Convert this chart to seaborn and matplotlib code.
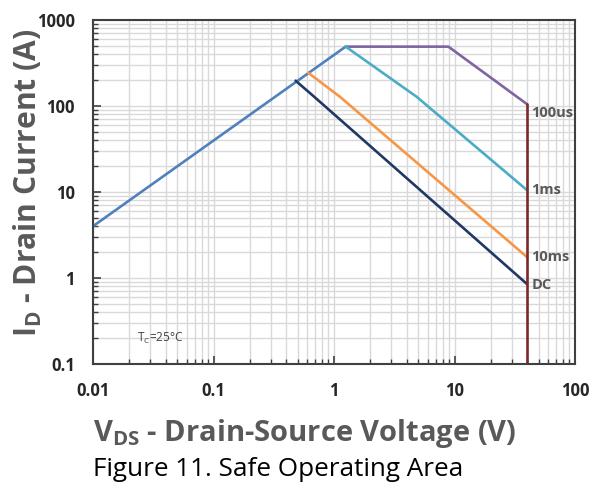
import matplotlib
matplotlib.use("Agg")
import matplotlib.pyplot as plt
import matplotlib.ticker as mticker
import numpy as np
import pandas as pd
import seaborn as sns

# Safe operating area boundaries (V, A)
rds_v = [0.01, 1.25]
rds_i = [4.0, 490.0]

pulse_100us_v = [1.25, 8.9, 40.0]
pulse_100us_i = [490.0, 490.0, 105.0]

pulse_1ms_v = [1.25, 4.85, 40.0]
pulse_1ms_i = [490.0, 128.0, 10.5]

pulse_10ms_v = [0.61, 1.12, 40.0]
pulse_10ms_i = [244.0, 128.0, 1.75]

dc_v = [0.48, 0.66, 40.0]
dc_i = [197.0, 134.0, 0.85]

vmax_v = [40.0, 40.0]
vmax_i = [105.0, 0.1]

curve_names = ["RDS(on) limit", "100us", "1ms", "10ms", "DC", "BVDSS"]
curve_colors = ["#4F81BD", "#8064A2", "#4BACC6", "#F79646", "#1F3864", "#7B2A2A"]
labelled = ["100us", "1ms", "10ms", "DC"]

x_ticks = [0.01, 0.1, 1, 10, 100]
x_ticklabels = ["0.01", "0.1", "1", "10", "100"]
y_ticks = [0.1, 1, 10, 100, 1000]
y_ticklabels = ["0.1", "1", "10", "100", "1000"]

frames = []
for name, v, i in zip(curve_names,
                      [rds_v, pulse_100us_v, pulse_1ms_v, pulse_10ms_v, dc_v, vmax_v],
                      [rds_i, pulse_100us_i, pulse_1ms_i, pulse_10ms_i, dc_i, vmax_i]):
    frames.append(pd.DataFrame({"V": v, "I": i, "curve": name}))
df = pd.concat(frames, ignore_index=True)

sns.set_theme(style="white")
plt.rcParams["font.family"] = ["Open Sans", "DejaVu Sans"]

W, H = 592, 494
fig = plt.figure(figsize=(W / 100, H / 100), dpi=100)
ax = fig.add_axes([93 / W, 1 - 364 / H, 482 / W, 344 / H])

ax.set_xscale("log")
ax.set_yscale("log")
ax.set_xlim(0.01, 100)
ax.set_ylim(0.1, 1000)

ax.grid(True, which="both", color="#D9D9D9", linewidth=1.0)
ax.set_axisbelow(True)

sns.lineplot(data=df, x="V", y="I", hue="curve", sort=False, estimator=None,
             palette=dict(zip(curve_names, curve_colors)), hue_order=curve_names,
             linewidth=1.9, legend=False, ax=ax)
ax.set_xlabel("")
ax.set_ylabel("")

# annotate pulse curves at the voltage limit
ends = {"100us": (pulse_100us_v[-1], pulse_100us_i[-1], -6),
        "1ms": (pulse_1ms_v[-1], pulse_1ms_i[-1], 0),
        "10ms": (pulse_10ms_v[-1], pulse_10ms_i[-1], 0),
        "DC": (dc_v[-1], dc_i[-1], -1)}
for name in labelled:
    v, i, dy = ends[name]
    ax.annotate(name, (v, i), xytext=(3, dy), textcoords="offset points",
                ha="left", va="center", fontsize=10.5, fontweight="bold",
                color="#595959")

ax.text(0.0232, 0.2, r"T$_\mathregular{C}$=25°C", fontsize=8.5,
        color="#404040", ha="left", va="center")

ax.xaxis.set_major_locator(mticker.FixedLocator(x_ticks))
ax.xaxis.set_major_formatter(mticker.FixedFormatter(x_ticklabels))
ax.yaxis.set_major_locator(mticker.FixedLocator(y_ticks))
ax.yaxis.set_major_formatter(mticker.FixedFormatter(y_ticklabels))
ax.xaxis.set_minor_locator(mticker.LogLocator(base=10, subs=np.arange(2, 10)))
ax.yaxis.set_minor_locator(mticker.LogLocator(base=10, subs=np.arange(2, 10)))
ax.xaxis.set_minor_formatter(mticker.NullFormatter())
ax.yaxis.set_minor_formatter(mticker.NullFormatter())

ax.tick_params(which="major", direction="in", length=6, width=1.2, color="#404040",
               labelsize=12, labelcolor="#262626", pad=13, bottom=True, left=True)
ax.tick_params(which="minor", direction="in", length=3.5, width=1.0, color="#404040",
               bottom=True, left=True)
for lab in ax.get_xticklabels() + ax.get_yticklabels():
    lab.set_fontweight("bold")

for side in ["left", "bottom", "top", "right"]:
    ax.spines[side].set_color("#404040")
    ax.spines[side].set_linewidth(1.5)

renderer = fig.canvas.get_renderer()


def fit_width(text_obj, target_px, horizontal=True):
    # scale the font so the drawn text spans the requested length
    for _ in range(3):
        bb = text_obj.get_window_extent(renderer)
        size = bb.width if horizontal else bb.height
        text_obj.set_fontsize(text_obj.get_fontsize() * target_px / size)


xlab = fig.text(93 / W, 1 - 441 / H, r"V$_\mathregular{DS}$ - Drain-Source Voltage (V)",
                fontsize=21, fontweight="bold", color="#595959",
                ha="left", va="baseline")
fit_width(xlab, 422)

ylab = fig.text(28 / W, 1 - 183 / H, r"I$_\mathregular{D}$ - Drain Current (A)",
                fontsize=21, fontweight="bold", color="#595959", rotation=90,
                ha="center", va="center")
fit_width(ylab, 308, horizontal=False)

cap = fig.text(93 / W, 1 - 476 / H, "Figure 11. Safe Operating Area", fontsize=15,
               color="#000000", ha="left", va="baseline")
fit_width(cap, 370)

fig.savefig("out.png", dpi=100)
